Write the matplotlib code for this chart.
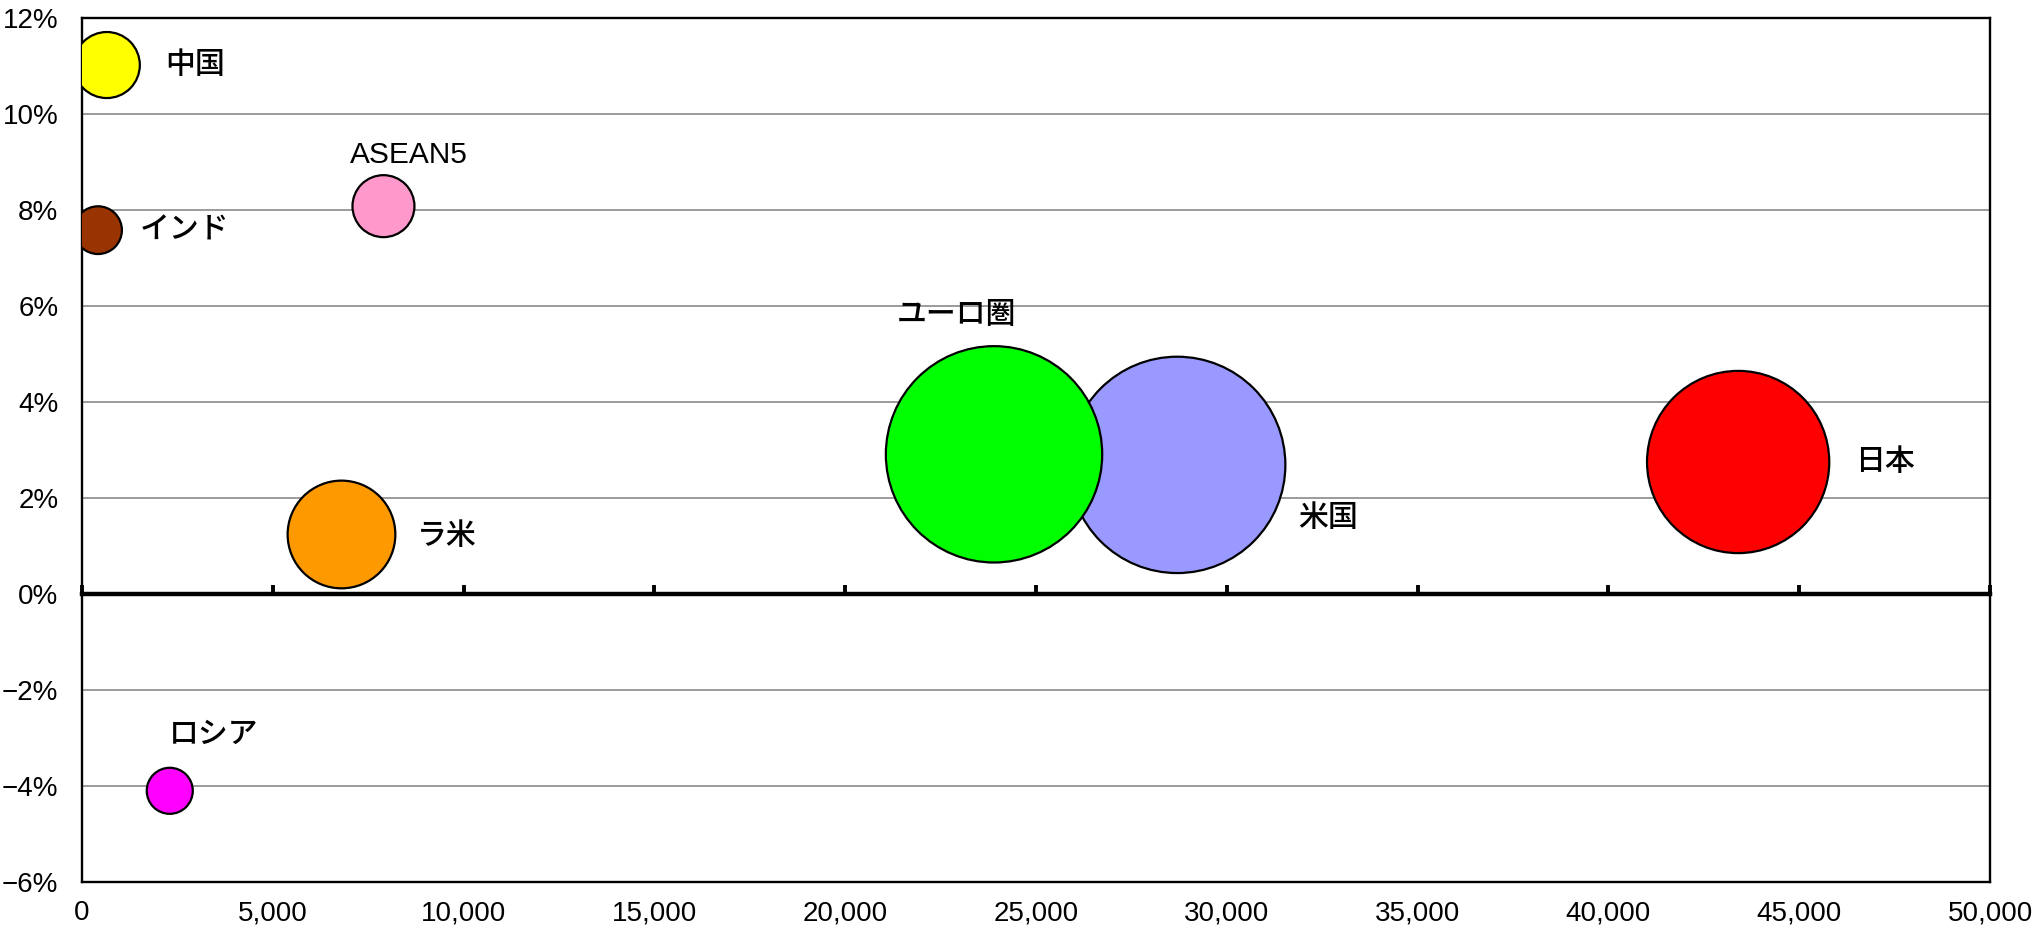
import matplotlib
matplotlib.use("Agg")
import matplotlib.pyplot as plt
from matplotlib.ticker import FuncFormatter, MultipleLocator

# data
names = ["日本", "米国", "ユーロ圏", "中国", "インド", "ASEAN5", "ラ米", "ロシア"]
x_vals = [43400, 28700, 23900, 650, 420, 7900, 6800, 2300]
growth = [2.75, 2.69, 2.91, 11.02, 7.58, 8.08, 1.24, -4.10]
bubble = [8.3, 11.7, 11.7, 1.09, 0.57, 0.96, 2.9, 0.53]
colors = ["#FF0000", "#9999FF", "#00FF00", "#FFFF00", "#993300", "#FF99CC", "#FF9900", "#FF00FF"]

# label offsets from the bubble centre (pixels)
offsets = [(147, 0), (151, -53), (-38, 139), (88, 0), (86, 0), (25, 51), (105, -2), (44, 56)]

lab_font = ["Liberation Sans", "Noto Sans CJK JP", "DejaVu Sans"]
num = ["Liberation Sans", "DejaVu Sans"]

fig = plt.figure(figsize=(20.39, 9.35), dpi=100)
ax = fig.add_axes([82 / 2039, 1 - 882 / 935, (1990 - 82) / 2039, (882 - 18) / 935])

ax.set_xlim(0, 50000)
ax.set_ylim(-6, 12)
ax.yaxis.set_major_locator(MultipleLocator(2))
ax.xaxis.set_major_locator(MultipleLocator(5000))
ax.grid(axis="y", color="#808080", linewidth=1.1, zorder=0)
ax.set_axisbelow(True)

sizes = [b * 2074 for b in bubble]
ax.scatter(x_vals, growth, s=sizes, c=colors, edgecolors="black", linewidths=1.6, zorder=3)

for n, xv, yv, (dx, dy) in zip(names, x_vals, growth, offsets):
    ax.annotate(n, (xv, yv), xytext=(dx, dy), textcoords="offset pixels",
                ha="center", va="center", fontsize=21.5, family=lab_font,
                weight="medium", zorder=4)

ax.yaxis.set_major_formatter(FuncFormatter(lambda v, p: f"{int(v)}%".replace("-", "\u2212")))
ax.xaxis.set_major_formatter(FuncFormatter(lambda v, p: f"{int(v):,}"))
ax.tick_params(axis="both", length=0, labelsize=20)
ax.tick_params(axis="y", pad=17)
ax.tick_params(axis="x", pad=13)
for lab in ax.get_xticklabels() + ax.get_yticklabels():
    lab.set_family(num)

for s in ax.spines.values():
    s.set_linewidth(1.7)

# horizontal axis crossing at 0%
zero = ax.secondary_xaxis(6 / 18)
zero.xaxis.set_major_locator(MultipleLocator(5000))
zero.spines["bottom"].set_linewidth(3.2)
zero.tick_params(direction="in", length=6.5, width=2.8, labelbottom=False)
zero.set_zorder(2)

plt.savefig("out.png", dpi=100)
